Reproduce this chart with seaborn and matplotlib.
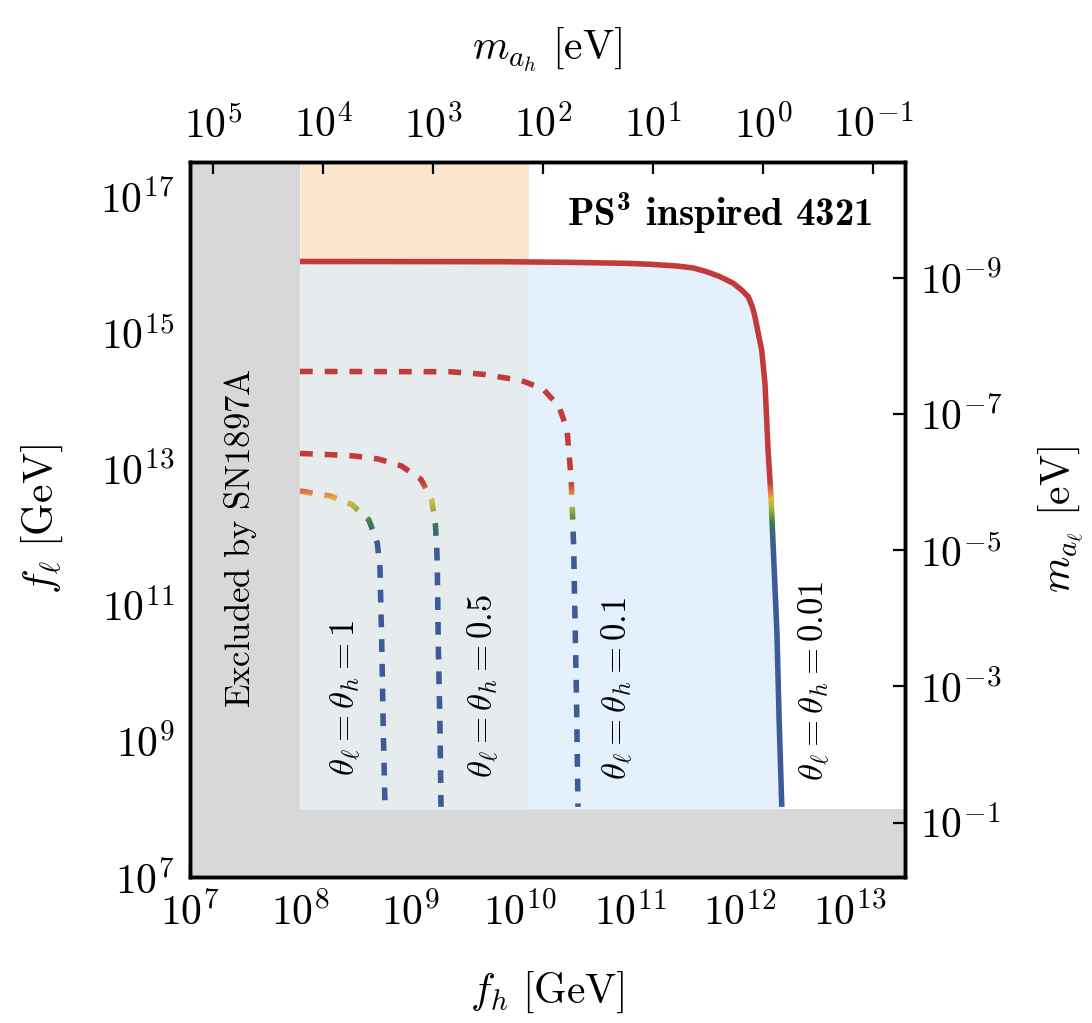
import numpy as np
import matplotlib
matplotlib.use("Agg")
import matplotlib.pyplot as plt
import seaborn as sns
import pandas as pd
from matplotlib.colors import LinearSegmentedColormap
from matplotlib.patches import Rectangle
from matplotlib.ticker import FixedLocator, FuncFormatter, NullLocator

# ---------------- data (log10 values) ----------------
# theta_l = theta_h = 0.01 (solid)
logfh_001 = [8.0, 9.818, 10.425, 10.970, 11.182, 11.425, 11.575, 11.697, 11.818, 11.939,
             12.015, 12.075, 12.112, 12.136, 12.166, 12.197, 12.212, 12.227, 12.241, 12.255,
             12.282, 12.31, 12.336, 12.355, 12.38]
logfl_001 = [16.039, 16.036, 16.027, 16.012, 15.998, 15.973, 15.944, 15.889, 15.816, 15.719,
             15.620, 15.522, 15.375, 15.228, 14.985, 14.74, 14.495, 14.25, 13.77, 13.27,
             12.58, 11.55, 10.58, 9.35, 8.03]
# theta = 0.1 (dashed)
logfh_01 = [8.0, 9.364, 9.664, 9.80, 10.015, 10.21, 10.355, 10.427, 10.445, 10.464,
            10.473, 10.488, 10.50, 10.514, 10.527]
logfl_01 = [14.424, 14.42, 14.383, 14.347, 14.29, 14.167, 13.907, 13.58, 13.227, 12.874,
            12.507, 11.832, 10.775, 9.60, 8.03]
# theta = 0.5 (dashed)
logfh_05 = [8.0, 8.273, 8.491, 8.709, 8.918, 9.10, 9.197, 9.23, 9.243, 9.248, 9.257,
            9.273, 9.282]
logfl_05 = [13.22, 13.202, 13.183, 13.139, 13.04, 12.84, 12.537, 12.195, 11.842, 11.557,
            10.432, 9.159, 8.03]
# theta = 1 (dashed)
logfh_1 = [8.0, 8.273, 8.47, 8.627, 8.703, 8.727, 8.743, 8.757, 8.773]
logfl_1 = [12.669, 12.595, 12.473, 12.243, 11.90, 11.54, 10.432, 9.159, 8.03]

curve_names = ["1", "0.5", "0.1", "0.01"]

# excluded / constrained regions (log10 GeV)
sn_fh_log = 8.0          # SN1987A bound on f_h
sn_fl_log = 8.0          # SN1987A bound on f_l
band_edge_log = 10.07    # right edge of the orange band

# mass conversions: m [eV] = 10**C / f [GeV]
mah_const_log = 12.21
mal_const_log = 6.80

# axis ranges / ticks (log10)
xlim_log = (7.0, 13.5)
ylim_log = (7.0, 17.5)
xticks_log = [7, 8, 9, 10, 11, 12, 13]
yticks_log = [7, 9, 11, 13, 15, 17]
top_ticks_log = [5, 4, 3, 2, 1, 0, -1]
right_ticks_log = [-9, -7, -5, -3, -1]

# colours
c_gray = "#d8d8d8"
c_orange = "#fde5cc"
c_grayblue = "#e6ebee"
c_lightblue = "#e4f1fd"
grad_pos = [11.95, 12.20, 12.42, 12.55, 12.65, 12.80]
grad_col = ["#3d5a99", "#3a7a4a", "#a4b53a", "#e2b53e", "#e07a3a", "#c23b3a"]

# ---------------- style ----------------
sns.set_theme(style="ticks")
plt.rcParams["font.family"] = ["DejaVu Sans"]
plt.rcParams["mathtext.fontset"] = "cm"
plt.rcParams["axes.linewidth"] = 2.4
for k in ("text.color", "axes.labelcolor", "xtick.color", "ytick.color", "axes.edgecolor"):
    plt.rcParams[k] = "black"

fig = plt.figure(figsize=(10.92, 10.23), dpi=100)
ax = fig.add_axes([190 / 1092, (1023 - 877) / 1023, 715 / 1092, 715 / 1023])
ax.set_xscale("log")
ax.set_yscale("log")
X0, X1 = 10 ** xlim_log[0], 10 ** xlim_log[1]
Y0, Y1 = 10 ** ylim_log[0], 10 ** ylim_log[1]
ax.set_xlim(X0, X1)
ax.set_ylim(Y0, Y1)

curves = {
    "0.01": (np.power(10.0, logfh_001), np.power(10.0, logfl_001)),
    "0.1": (np.power(10.0, logfh_01), np.power(10.0, logfl_01)),
    "0.5": (np.power(10.0, logfh_05), np.power(10.0, logfl_05)),
    "1": (np.power(10.0, logfh_1), np.power(10.0, logfl_1)),
}

# ---------------- regions ----------------
ax.axvspan(X0, 10 ** sn_fh_log, color=c_gray, lw=0, zorder=1)
ax.axhspan(Y0, 10 ** sn_fl_log, color=c_gray, lw=0, zorder=1)

xs, ys = curves["0.01"]
ax.fill_between(xs, 10 ** sn_fl_log, ys, color=c_lightblue, lw=0, zorder=1)
band_clip = Rectangle((10 ** sn_fh_log, Y0), 10 ** band_edge_log - 10 ** sn_fh_log, Y1 - Y0,
                      transform=ax.transData, visible=False)
ax.add_patch(band_clip)
p1 = ax.fill_between(xs, 10 ** sn_fl_log, ys, color=c_grayblue, lw=0, zorder=1.1)
p2 = ax.fill_between(xs, ys, Y1, color=c_orange, lw=0, zorder=1.1)
p1.set_clip_path(band_clip)
p2.set_clip_path(band_clip)

# ---------------- gradient-coloured curves ----------------
cmap = LinearSegmentedColormap.from_list(
    "grad", [((p - grad_pos[0]) / (grad_pos[-1] - grad_pos[0]), c) for p, c in zip(grad_pos, grad_col)])
edges = np.concatenate([[ylim_log[0]], np.linspace(grad_pos[0] - 0.02, grad_pos[-1] + 0.02, 46), [ylim_log[1]]])
LW = 4.0
for name in curve_names:
    fx, fy = curves[name]
    df = pd.DataFrame({"fh": fx, "fl": fy})
    for lo, hi in zip(edges[:-1], edges[1:]):
        mid = 0.5 * (lo + hi)
        t = np.clip((mid - grad_pos[0]) / (grad_pos[-1] - grad_pos[0]), 0, 1)
        n0 = len(ax.lines)
        sns.lineplot(data=df, x="fh", y="fl", sort=False, estimator=None, ax=ax,
                     color=cmap(t), lw=LW, zorder=3)
        ln = ax.lines[n0]
        if name != "0.01":
            ln.set_linestyle((0, (2.3, 2.15)))
        ln.set_dash_capstyle("butt")
        ln.set_solid_capstyle("butt")
        ln.set_solid_joinstyle("round")
        clip = Rectangle((X0, 10 ** lo), X1 - X0, 10 ** hi - 10 ** lo,
                         transform=ax.transData, visible=False)
        ax.add_patch(clip)
        ln.set_clip_path(clip)

# ---------------- texts ----------------
txt_kw = dict(rotation=90, ha="center", va="center", fontsize=25, zorder=4)
ax.text(10 ** 8.418, 10 ** 9.63, r"$\theta_\ell = \theta_h = 1$", **txt_kw)
ax.text(10 ** 9.664, 10 ** 9.805, r"$\theta_\ell = \theta_h = 0.5$", **txt_kw)
ax.text(10 ** 10.88, 10 ** 9.776, r"$\theta_\ell = \theta_h = 0.1$", **txt_kw)
ax.text(10 ** 12.673, 10 ** 9.88, r"$\theta_\ell = \theta_h = 0.01$", **txt_kw)
ax.text(10 ** 7.455, 10 ** 11.98, r"$\mathrm{Excluded\ by\ SN1897A}$", **txt_kw)
ax.text(0.954, 0.929, r"PS$^{\mathdefault{3}}$ inspired 4321", transform=ax.transAxes,
        ha="right", va="center", fontsize=28, fontfamily="cmb10", zorder=4)

# ---------------- axes / ticks ----------------
fmt = FuncFormatter(lambda v, p: r"$10^{%d}$" % int(round(np.log10(v))))
ax.xaxis.set_major_locator(FixedLocator([10.0 ** k for k in xticks_log]))
ax.yaxis.set_major_locator(FixedLocator([10.0 ** k for k in yticks_log]))
ax.xaxis.set_minor_locator(NullLocator())
ax.yaxis.set_minor_locator(NullLocator())
ax.xaxis.set_major_formatter(fmt)
ax.yaxis.set_major_formatter(fmt)
tick_kw = dict(direction="in", length=8.6, width=1.6, labelsize=30, colors="black")
ax.tick_params(axis="both", which="major", pad=11, **tick_kw)

axt = ax.twiny()
axt.set_xscale("log")
axt.set_xlim(10 ** (mah_const_log - xlim_log[0]), 10 ** (mah_const_log - xlim_log[1]))
axt.xaxis.set_major_locator(FixedLocator([10.0 ** k for k in top_ticks_log]))
axt.xaxis.set_minor_locator(NullLocator())
axt.xaxis.set_major_formatter(fmt)
axt.tick_params(axis="x", which="major", pad=11, **tick_kw)

axr = ax.twinx()
axr.set_yscale("log")
axr.set_ylim(10 ** (mal_const_log - ylim_log[0]), 10 ** (mal_const_log - ylim_log[1]))
axr.yaxis.set_major_locator(FixedLocator([10.0 ** k for k in right_ticks_log]))
axr.yaxis.set_minor_locator(NullLocator())
axr.yaxis.set_major_formatter(fmt)
axr.tick_params(axis="y", which="major", pad=11, **tick_kw)

for a in (ax, axt, axr):
    for s in a.spines.values():
        s.set_linewidth(2.4)
        s.set_color("black")
        s.set_zorder(10)

ax.set_xlabel(r"$f_h\ [\mathrm{GeV}]$", fontsize=30)
ax.set_ylabel(r"$f_\ell\ [\mathrm{GeV}]$", fontsize=30)
axt.set_xlabel(r"$m_{a_h}\ [\mathrm{eV}]$", fontsize=30)
axr.set_ylabel(r"$m_{a_\ell}\ [\mathrm{eV}]$", fontsize=30, rotation=90)
ax.xaxis.set_label_coords(0.5, -0.130)
ax.yaxis.set_label_coords(-0.175, 0.5)
axt.xaxis.set_label_coords(0.5, 1.143)
axr.yaxis.set_label_coords(1.185, 0.5)

fig.savefig("out.png", dpi=100)
